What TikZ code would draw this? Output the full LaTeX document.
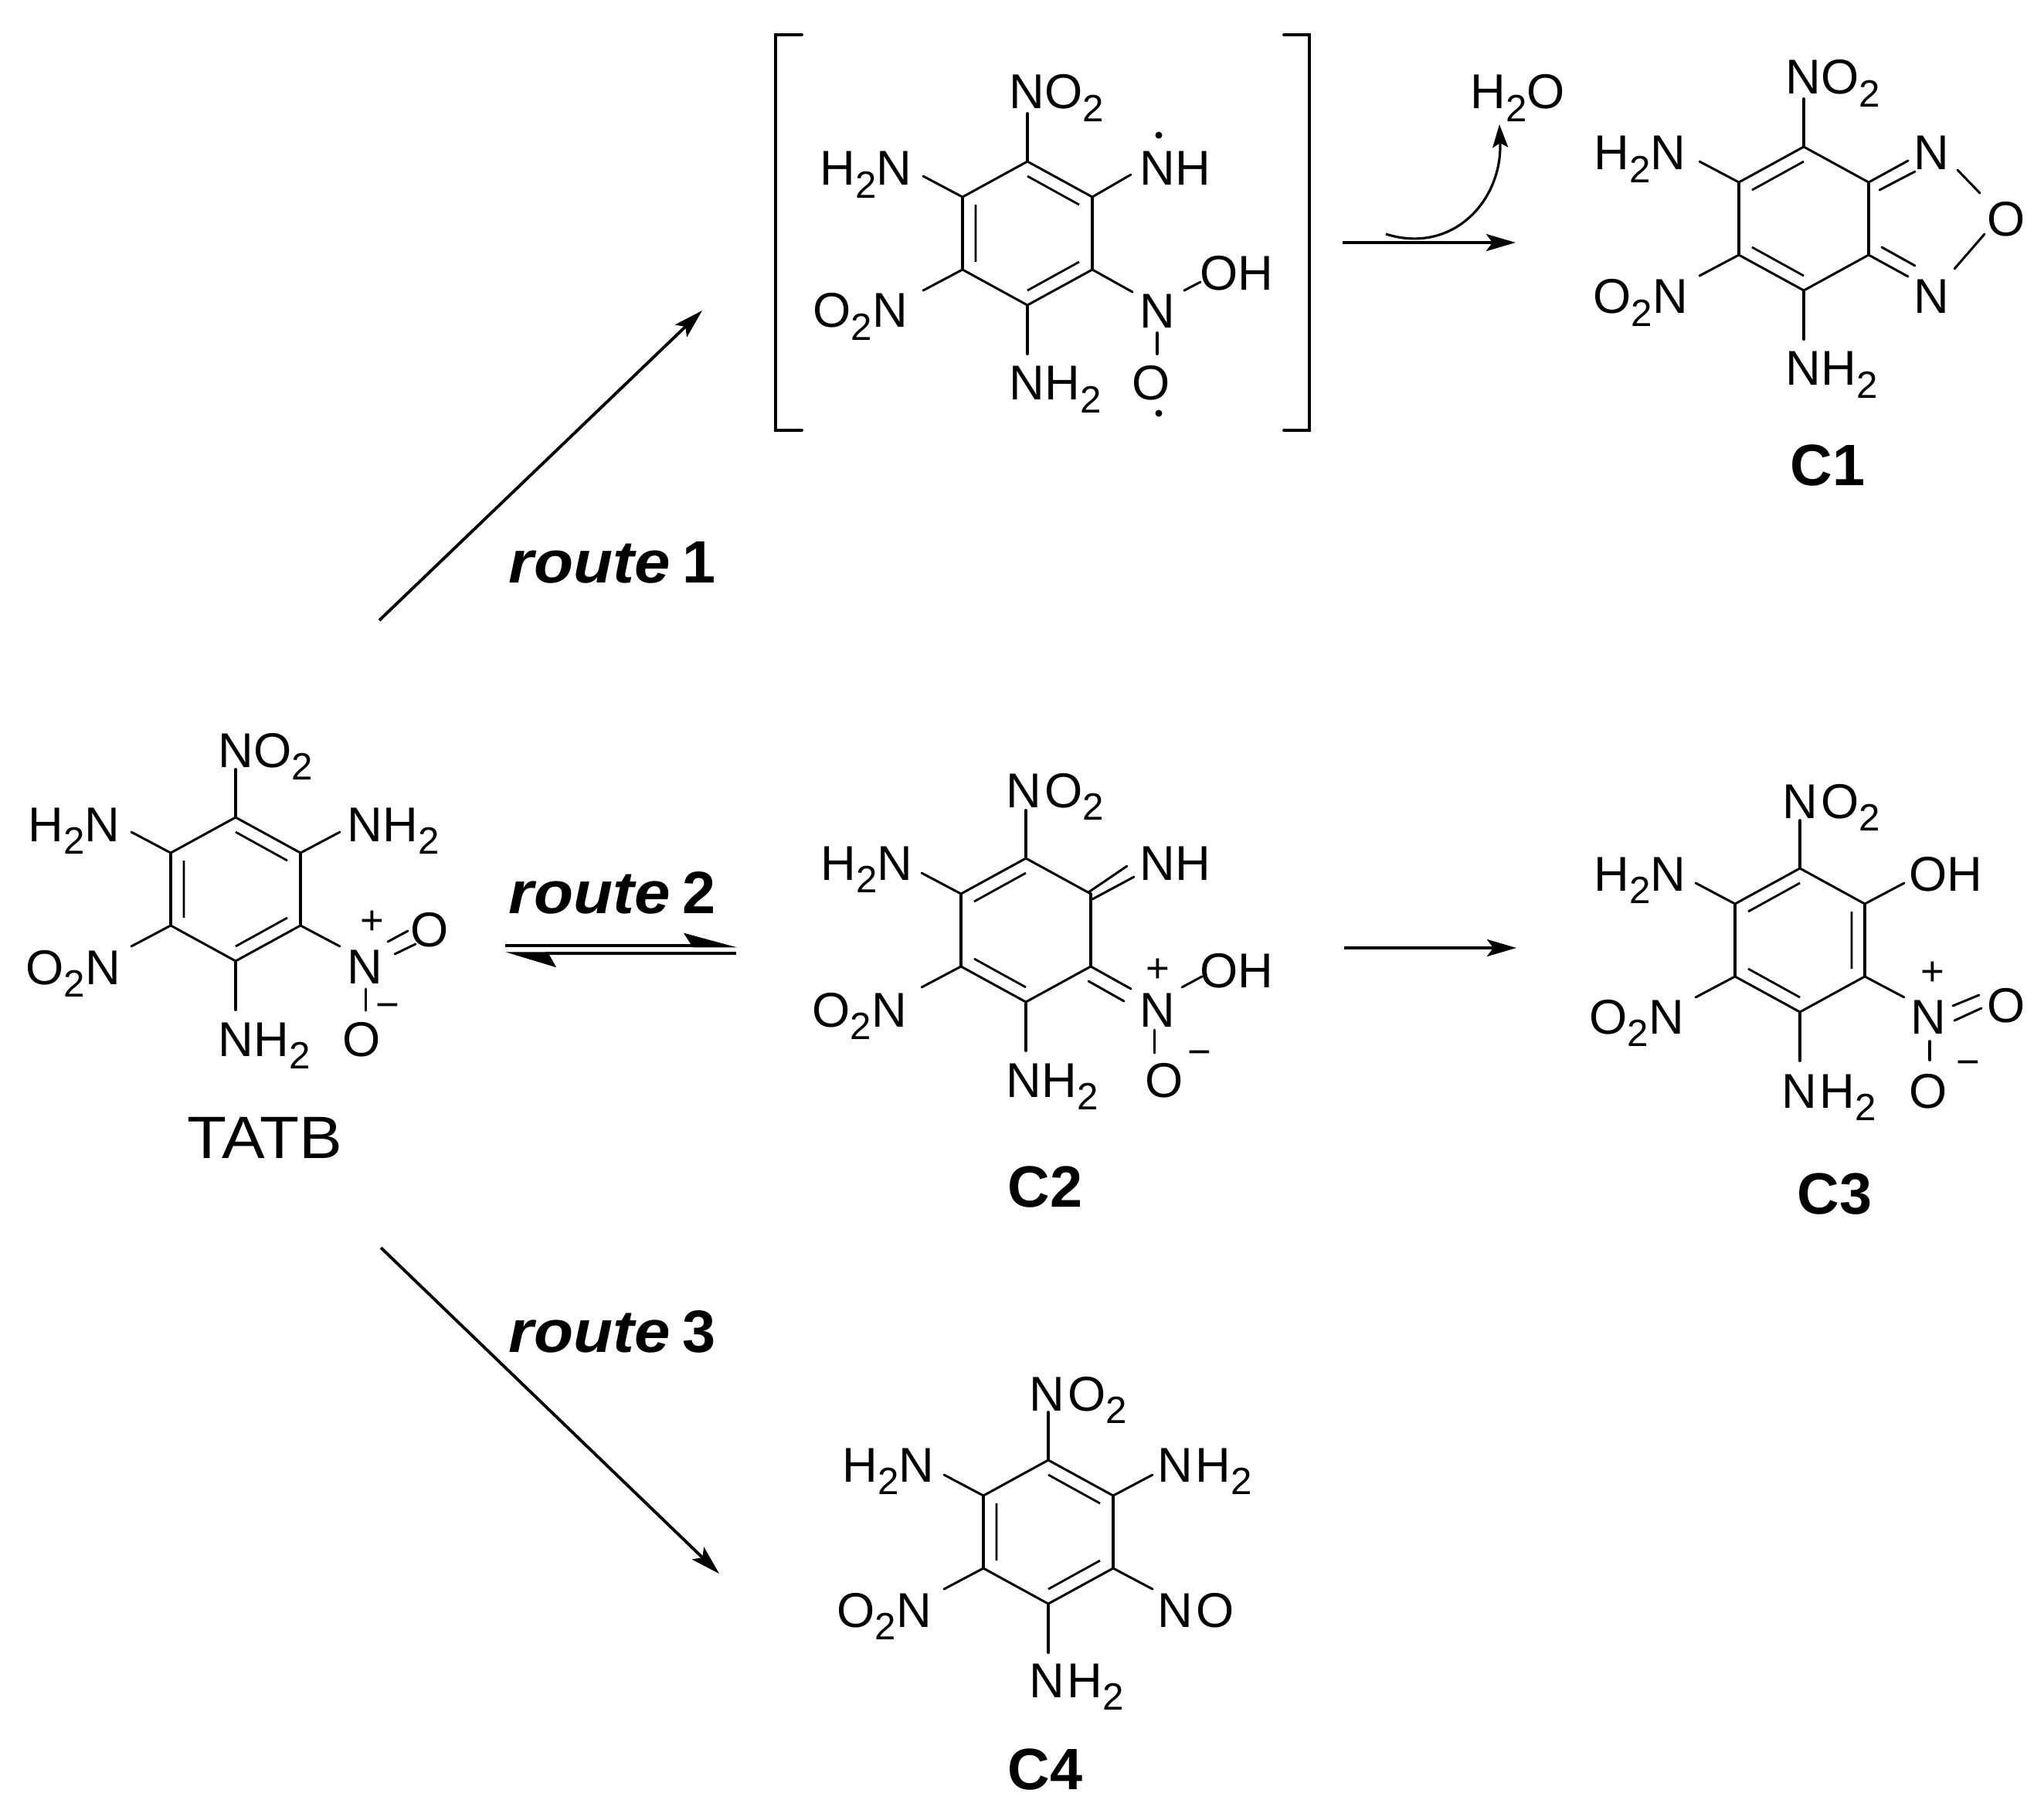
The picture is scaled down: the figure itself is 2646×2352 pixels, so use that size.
\documentclass[tikz,border=0pt]{standalone}
\usepackage{fontspec}
\setmainfont{Liberation Sans}
\usetikzlibrary{arrows.meta}

\newcommand{\low}[1]{\raisebox{-0.16cm}{\fontsize{14}{14}\selectfont #1}}
\newcommand{\route}[1]{\scalebox{1.08}[1]{\textit{route}}\kern0.16cm #1}

% ring: vertices a..f clockwise from the top, inner corners ia..if, stub ends sa..sf
\newcommand{\ring}[3]{%
    \begin{scope}[shift={(#2,#3)}]
    \coordinate (#1a) at (0,-93);   \coordinate (#1ia) at (0,-74);   \coordinate (#1sa) at (0,-155);
    \coordinate (#1b) at (84,-47);  \coordinate (#1ib) at (67,-37);  \coordinate (#1sb) at (135,-74);
    \coordinate (#1c) at (84,47);   \coordinate (#1ic) at (67,37);   \coordinate (#1sc) at (135,74);
    \coordinate (#1d) at (0,93);    \coordinate (#1id) at (0,74);    \coordinate (#1sd) at (0,156);
    \coordinate (#1e) at (-84,47);  \coordinate (#1ie) at (-67,37);  \coordinate (#1se) at (-135,74);
    \coordinate (#1f) at (-84,-47); \coordinate (#1if) at (-67,-37); \coordinate (#1sf) at (-135,-74);
    \end{scope}
    \draw[bond] (#1a) -- (#1b) (#1c) -- (#1d) -- (#1e) (#1f) -- (#1a);
    \draw[heavy] (#1b) -- (#1c) (#1e) -- (#1f) (#1a) -- (#1sa) (#1d) -- (#1sd);
    \draw[bond] (#1f) -- (#1sf) (#1e) -- (#1se);
}

\tikzset{
    bond/.style={line width=0.85pt, line cap=round, line join=round},
    heavy/.style={line width=1.1pt, line cap=round},
    inner/.style={line width=0.8pt},
    atom/.style={inner sep=0pt, anchor=base west, xshift=-0.05cm, font=\fontsize{18}{20}\selectfont},
    charge/.style={inner sep=0pt, font=\fontsize{15}{16}\selectfont},
    routelab/.style={inner sep=0pt, anchor=base west, font=\fontsize{22}{24}\selectfont\bfseries},
    cmpd/.style={inner sep=0pt, anchor=base, font=\fontsize{21.5}{24}\selectfont\bfseries},
    radical/.style={circle, fill, inner sep=0pt, minimum size=0.09cm},
    reaction/.style={line width=1.1pt, -{Stealth[length=0.38cm, width=0.22cm, inset=0.08cm]}},
    eqtop/.style={line width=1.3pt, -{Stealth[harpoon, length=0.6cm, width=0.32cm, inset=0.1cm]}},
    eqbottom/.style={line width=1pt, -{Stealth[harpoon, length=0.6cm, width=0.36cm, inset=0.1cm]}},
}

\begin{document}
\begin{tikzpicture}[x=0.01cm, y=-0.01cm]
    \useasboundingbox (0,0) rectangle (2646,2352);

    % TATB
    \ring{ta}{305}{1151}
    \draw[inner] (taia) -- (taib) (taic) -- (taid) (taie) -- (taif);
    \draw[bond] (tab) -- (tasb) (tac) -- (tasc);
    \draw (287,993) node[atom] (tano) {NO\low{2}};
    \draw (41,1089) node[atom] (tahn) {H\low{2}N};
    \draw (454,1089) node[atom] (tanh) {NH\low{2}};
    \draw (38,1274) node[atom] (taon) {O\low{2}N};
    \draw (454,1273) node[atom] (tan) {N};
    \draw (536,1225) node[atom] (taou) {O};
    \draw (448,1367) node[atom] (taol) {O};
    \draw (287,1367) node[atom] (tanb) {NH\low{2}};
    \draw (482,1194) node[charge] (taplus) {+};
    \draw (502,1309) node[charge] (taminus) {−};
    \coordinate (tap) at (502,1219); \coordinate (taq) at (528,1205); \draw[bond] (tap) -- (taq);
    \coordinate (tar) at (511,1235); \coordinate (tas) at (538,1222); \draw[bond] (tar) -- (tas);
    \coordinate (tat) at (473,1280); \coordinate (tau) at (473,1308); \draw[bond] (tat) -- (tau);
    \draw (343,1499) node[inner sep=0pt, anchor=base, font=\fontsize{22}{24}\selectfont] (tatb) {\scalebox{1.08}[1]{TATB}};

    % intermediate of route 1
    \ring{tb}{1330}{302}
    \draw[inner] (tbia) -- (tbib) (tbic) -- (tbid) (tbie) -- (tbif);
    \draw (1311,141) node[atom] (tbno) {NO\low{2}};
    \draw (1066,240) node[atom] (tbhn) {H\low{2}N};
    \draw (1480,240) node[atom] (tbnh) {NH};
    \draw (1057,424) node[atom] (tbon) {O\low{2}N};
    \draw (1480,425) node[atom] (tbn) {N};
    \draw (1558,376) node[atom] (tboh) {OH};
    \draw (1311,518) node[atom] (tbnb) {NH\low{2}};
    \draw (1470,518) node[atom] (tbo) {O};
    \draw (1500,175) node[radical] (tbdotn) {};
    \draw (1500,535) node[radical] (tbdoto) {};
    \coordinate (tbp) at (1464,226); \draw[bond] (tbb) -- (tbp);
    \coordinate (tbq) at (1466,378); \draw[bond] (tbc) -- (tbq);
    \coordinate (tbr) at (1533,376); \coordinate (tbs) at (1554,365); \draw[bond] (tbr) -- (tbs);
    \coordinate (tbt) at (1498,431); \coordinate (tbu) at (1498,458); \draw[heavy] (tbt) -- (tbu);
    \draw[heavy] (1038,45) -- (1004,45) -- (1004,557) -- (1038,557);
    \draw[heavy] (1662,45) -- (1695,45) -- (1695,557) -- (1662,557);

    % C1
    \ring{ca}{2335}{283}
    \draw[inner] (caif) -- (caia) (caid) -- (caie);
    \draw (2316,122) node[atom] (cano) {NO\low{2}};
    \draw (2068,220) node[atom] (cahn) {H\low{2}N};
    \draw (2067,406) node[atom] (caon) {O\low{2}N};
    \draw (2316,499) node[atom] (canh) {NH\low{2}};
    \draw (2482,220) node[atom] (canu) {N};
    \draw (2482,406) node[atom] (canl) {N};
    \draw (2577,306) node[atom] (cao) {O};
    \coordinate (cap) at (2470,208); \draw[bond] (cab) -- (cap);
    \coordinate (caq) at (2433,246); \coordinate (car) at (2479,222); \draw[bond] (caq) -- (car);
    \coordinate (cas) at (2470,358); \draw[bond] (cac) -- (cas);
    \coordinate (cat) at (2436,320); \coordinate (cau) at (2479,344); \draw[bond] (cat) -- (cau);
    \coordinate (cav) at (2534,220); \coordinate (caw) at (2563,250); \draw[bond] (cav) -- (caw);
    \coordinate (cax) at (2569,303); \coordinate (cay) at (2530,348); \draw[bond] (cax) -- (cay);
    \draw (2366,629) node[cmpd] (cone) {C1};

    % C2
    \ring{cb}{1328}{1204}
    \draw[inner] (cbif) -- (cbia) (cbid) -- (cbie);
    \draw (1307,1045) node[atom] (cbno) {N\kern0.04cm O\low{2}};
    \draw (1067,1139) node[atom] (cbhn) {H\low{2}N};
    \draw (1480,1139) node[atom] (cbnh) {NH};
    \draw (1056,1329) node[atom] (cbon) {O\low{2}N};
    \draw (1480,1329) node[atom] (cbn) {N};
    \draw (1558,1278) node[atom] (cboh) {OH};
    \draw (1307,1420) node[atom] (cbnb) {NH\low{2}};
    \draw (1487,1420) node[atom] (cbo) {O};
    \draw (1499,1256) node[charge] (cbplus) {+};
    \draw (1553,1370) node[charge] (cbminus) {−};
    \coordinate (cbp) at (1409,1155); \coordinate (cbq) at (1459,1121); \draw[bond] (cbp) -- (cbq);
    \coordinate (cbr) at (1414,1164); \coordinate (cbs) at (1468,1135); \draw[bond] (cbr) -- (cbs);
    \coordinate (cbt) at (1464,1280); \draw[bond] (cbc) -- (cbt);
    \coordinate (cbu) at (1409,1270); \coordinate (cbv) at (1455,1296); \draw[bond] (cbu) -- (cbv);
    \coordinate (cbw) at (1530,1278); \coordinate (cbx) at (1556,1264); \draw[bond] (cbw) -- (cbx);
    \coordinate (cby) at (1494,1333); \coordinate (cbz) at (1494,1363); \draw[bond] (cby) -- (cbz);
    \draw (1353,1562) node[cmpd] (ctwo) {C2};

    % C3
    \ring{cc}{2330}{1217}
    \draw[inner] (ccif) -- (ccia) (ccib) -- (ccic) (ccid) -- (ccie);
    \draw[bond] (ccb) -- (ccsb) (ccc) -- (ccsc);
    \draw (2312,1059) node[atom] (ccno) {N\kern0.04cm O\low{2}};
    \draw (2068,1153) node[atom] (cchn) {H\low{2}N};
    \draw (2476,1153) node[atom] (ccoh) {OH};
    \draw (2062,1338) node[atom] (ccon) {O\low{2}N};
    \draw (2478,1338) node[atom] (ccn) {N};
    \draw (2577,1323) node[atom] (ccou) {O};
    \draw (2476,1434) node[atom] (ccol) {O};
    \draw (2311,1434) node[atom] (ccnh) {N\kern0.03cm H\low{2}};
    \draw (2502,1260) node[charge] (ccplus) {+};
    \draw (2548,1383) node[charge] (ccminus) {−};
    \coordinate (ccp) at (2528,1302); \coordinate (ccq) at (2562,1288); \draw[bond] (ccp) -- (ccq);
    \coordinate (ccr) at (2530,1321); \coordinate (ccs) at (2565,1305); \draw[bond] (ccr) -- (ccs);
    \coordinate (cct) at (2498,1348); \coordinate (ccu) at (2498,1372); \draw[heavy] (cct) -- (ccu);
    \draw (2375,1571) node[cmpd] (cthree) {C3};

    % C4
    \ring{cd}{1357}{1983}
    \draw[inner] (cdia) -- (cdib) (cdic) -- (cdid) (cdie) -- (cdif);
    \draw[bond] (cdb) -- (cdsb) (cdc) -- (cdsc);
    \draw (1337,1826) node[atom] (cdno) {N\kern0.04cm O\low{2}};
    \draw (1095,1918) node[atom] (cdhn) {H\low{2}N};
    \draw (1503,1918) node[atom] (cdnh) {N\kern0.03cm H\low{2}};
    \draw (1088,2106) node[atom] (cdon) {O\low{2}N};
    \draw (1503,2106) node[atom] (cdnoo) {N\kern0.04cm O};
    \draw (1337,2197) node[atom] (cdnb) {N\kern0.03cm H\low{2}};
    \draw (1353,2316) node[cmpd] (cfour) {C4};

    % arrows
    \coordinate (rastart) at (491,803); \coordinate (raend) at (909,402);
    \draw[reaction] (rastart) -- (raend);
    \coordinate (rcstart) at (493,1615); \coordinate (rcend) at (931,2037);
    \draw[reaction] (rcstart) -- (rcend);
    \coordinate (eqa) at (654,1224); \coordinate (eqb) at (954,1224);
    \draw[eqtop] (eqa) -- (eqb);
    \coordinate (eqc) at (953,1234); \coordinate (eqd) at (654,1234);
    \draw[eqbottom] (eqc) -- (eqd);
    \coordinate (tca) at (1738,314); \coordinate (tcb) at (1962,314);
    \draw[reaction] (tca) -- (tcb);
    \coordinate (tcc) at (1740,1227); \coordinate (tcd) at (1963,1227);
    \draw[reaction] (tcc) -- (tcd);
    \draw (1908,141) node[atom] (water) {H\low{2}O};
    \coordinate (wsa) at (1794,303); \coordinate (wsb) at (1941,161);
    \draw[line width=0.9pt, -{Stealth[length=0.3cm, width=0.2cm, inset=0.06cm]}] (wsa) .. controls (1880,330) and (1945,260) .. (wsb);

    % route labels
    \draw (658,754) node[routelab] (routea) {\route{1}};
    \draw (658,1182) node[routelab] (routeb) {\route{2}};
    \draw (658,1750) node[routelab] (routec) {\route{3}};
\end{tikzpicture}
\end{document}
